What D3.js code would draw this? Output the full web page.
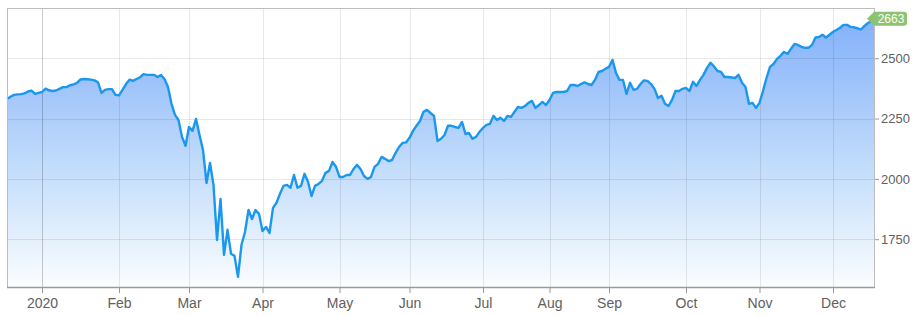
<!DOCTYPE html>
<html>
<head>
<meta charset="utf-8">
<script src="https://cdn.jsdelivr.net/npm/d3@7"></script>
<style>
  html, body { margin: 0; padding: 0; background: #fff; }
  svg { display: block; font-family: "Liberation Sans", Arial, sans-serif; }
  .axis .domain { display: none; }
  .axis line { stroke: #999; }
  .axis text { fill: #606060; }
</style>
</head>
<body>
<svg width="914" height="316"></svg>
<script>
// one array of closes per month, the chart is ordinal (points evenly spaced)
const monthLabels = [null, "2020", "Feb", "Mar", "Apr", "May", "Jun", "Jul", "Aug", "Sep", "Oct", "Nov", "Dec"];

const dec2019 = [2331, 2340, 2348, 2350, 2351, 2354, 2362, 2366, 2352, 2356];
const jan = [2360, 2374, 2367, 2364, 2366, 2373, 2380, 2380, 2388, 2391, 2398, 2412, 2414, 2413, 2411, 2408, 2400, 2356, 2369, 2372, 2372, 2348];
const feb = [2346, 2369, 2393, 2411, 2406, 2414, 2421, 2434, 2431, 2431, 2431, 2422, 2430, 2414, 2381, 2311, 2265, 2244, 2174, 2137];
const mar = [2215, 2199, 2248, 2182, 2120, 1983, 2066, 1975, 1747, 1917, 1685, 1789, 1690, 1681, 1594, 1727, 1780, 1871, 1834, 1871, 1855];
const apr = [1784, 1801, 1776, 1880, 1901, 1938, 1971, 1975, 1963, 2016, 1963, 1971, 2021, 1988, 1929, 1971, 1979, 1992, 2025, 2033, 2070, 2050];
const may = [2008, 2008, 2016, 2016, 2041, 2058, 2041, 2012, 2000, 2008, 2050, 2062, 2091, 2083, 2074, 2078, 2107, 2132, 2149, 2151];
const jun = [2170, 2199, 2220, 2240, 2278, 2286, 2273, 2261, 2157, 2166, 2182, 2220, 2220, 2215, 2211, 2236, 2186, 2190, 2166, 2174, 2195];
const jul = [2211, 2224, 2228, 2261, 2244, 2253, 2240, 2261, 2257, 2278, 2298, 2294, 2302, 2315, 2323, 2294, 2306, 2319, 2306];
const aug = [2327, 2356, 2360, 2360, 2360, 2364, 2389, 2389, 2385, 2393, 2400, 2393, 2389, 2410, 2443, 2447, 2456];
const sep = [2464, 2493, 2439, 2410, 2410, 2352, 2398, 2369, 2373, 2393, 2408, 2406, 2393, 2373, 2335, 2344, 2311, 2302, 2327, 2364, 2364, 2373];
const oct = [2377, 2364, 2402, 2385, 2410, 2431, 2460, 2481, 2466, 2447, 2443, 2422, 2422, 2420, 2418, 2431, 2398, 2381, 2311, 2315, 2294];
const nov = [2315, 2364, 2418, 2464, 2476, 2497, 2510, 2526, 2518, 2539, 2559, 2555, 2547, 2543, 2543, 2555, 2586, 2588, 2597, 2586, 2597];
const dec = [2609, 2617, 2626, 2638, 2638, 2630, 2628, 2624, 2619, 2634, 2646, 2653, 2663];

const monthValues = [dec2019, jan, feb, mar, apr, may, jun, jul, aug, sep, oct, nov, dec];
const yTicks = [1750, 2000, 2250, 2500];
const yExtent = [1552, 2708];

let svg = d3.select("svg"),
    margin = {top: 8, right: 39, bottom: 29, left: 7},
    width = +svg.attr("width") - margin.left - margin.right,
    height = +svg.attr("height") - margin.top - margin.bottom;

// flatten, remember where each month starts
let data = [], monthStarts = [];
monthValues.forEach((vals, m) => {
    monthStarts.push(data.length);
    vals.forEach(v => data.push({m: m, v: v}));
});
let tickIdx = monthStarts.slice(1);

let x = d3.scaleLinear()
    .domain([0, data.length - 1])
    .range([0, width]);

let y = d3.scaleLinear()
    .domain(yExtent)
    .range([height, 0]);

let defs = svg.append("defs");
let grad = defs.append("linearGradient")
    .attr("id", "areaFill")
    .attr("x1", 0).attr("y1", 0)
    .attr("x2", 0).attr("y2", 1);
grad.append("stop").attr("offset", "0%").attr("stop-color", "#84b1fa");
grad.append("stop").attr("offset", "55%").attr("stop-color", "#c2dcfb");
grad.append("stop").attr("offset", "100%").attr("stop-color", "#fbfdff");

let g = svg.append("g")
    .attr("transform", "translate(" + [margin.left, margin.top] + ")");

let area = d3.area()
    .x((d, i) => x(i))
    .y0(height)
    .y1(d => y(d.v));

let line = d3.line()
    .x((d, i) => x(i))
    .y(d => y(d.v));

g.append("path")
    .datum(data)
    .attr("fill", "url(#areaFill)")
    .attr("d", area);

// grid on top of the fill, semi transparent
g.append("g")
    .selectAll("line")
    .data(yTicks)
    .enter().append("line")
    .attr("x1", 0)
    .attr("x2", width)
    .attr("y1", d => Math.round(y(d)) + 0.5)
    .attr("y2", d => Math.round(y(d)) + 0.5)
    .attr("stroke", "rgba(0,0,0,0.09)");

g.append("g")
    .selectAll("line")
    .data(tickIdx)
    .enter().append("line")
    .attr("x1", d => Math.round(x(d)) + 0.5)
    .attr("x2", d => Math.round(x(d)) + 0.5)
    .attr("y1", 0)
    .attr("y2", height)
    .attr("stroke", (d, i) => i == 0 ? "rgba(0,0,0,0.2)" : "rgba(0,0,0,0.09)");

g.append("path")
    .datum(data)
    .attr("fill", "none")
    .attr("stroke", "#1b98ee")
    .attr("stroke-width", 2.4)
    .attr("stroke-linejoin", "round")
    .attr("d", line);

// frame
g.append("rect")
    .attr("x", 0.5)
    .attr("y", 0.5)
    .attr("width", width - 1)
    .attr("height", height)
    .attr("fill", "none")
    .attr("stroke", "#bdbdbd");

g.append("line")
    .attr("x1", 0)
    .attr("x2", width)
    .attr("y1", height + 0.5)
    .attr("y2", height + 0.5)
    .attr("stroke", "#9a9a9a")
    .attr("stroke-width", 1.5);

g.append("g")
    .attr("class", "axis")
    .attr("transform", "translate(0," + height + ")")
    .call(d3.axisBottom(x)
        .tickValues(tickIdx)
        .tickFormat((d, i) => monthLabels[i + 1])
        .tickSize(6)
        .tickPadding(5))
    .selectAll("text")
    .style("font-size", "14px");

g.append("g")
    .attr("class", "axis")
    .attr("transform", "translate(" + width + ",0)")
    .call(d3.axisRight(y)
        .tickValues(yTicks)
        .tickFormat(d3.format("d"))
        .tickSize(4)
        .tickPadding(2))
    .selectAll("text")
    .style("font-size", "13px");

// last price flag
let last = data[data.length - 1];
let flag = g.append("g")
    .attr("transform", "translate(" + [x(data.length - 1), y(last.v)] + ")");
flag.append("path")
    .attr("d", "M-8,0 L-1,-7 H29 Q32,-7 32,-4 V4 Q32,7 29,7 H-1 Z")
    .attr("fill", "#8dc36f");
flag.append("text")
    .attr("x", 16)
    .attr("dy", "0.35em")
    .attr("text-anchor", "middle")
    .attr("fill", "#fff")
    .style("font-size", "12px")
    .text(last.v);
</script>
</body>
</html>
